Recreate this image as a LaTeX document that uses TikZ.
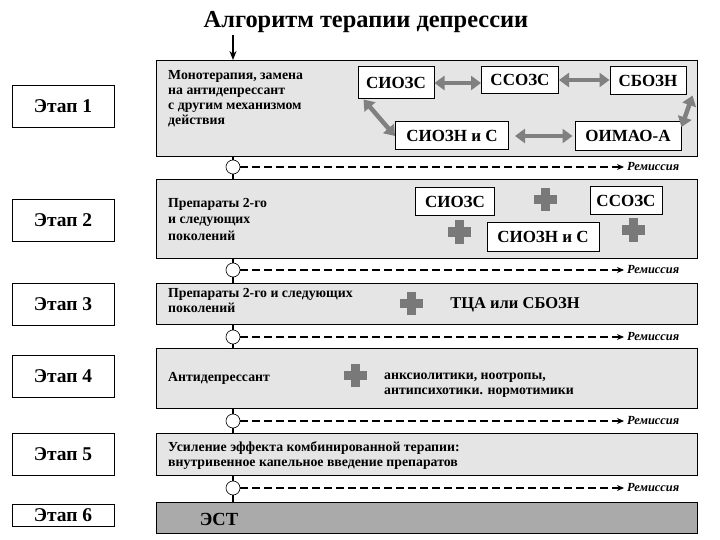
\documentclass[tikz,border=0pt]{standalone}
\usepackage{fontspec}
\setmainfont{Liberation Serif}
\usepackage{tikz}
\usetikzlibrary{
    arrows.meta,
    positioning
}
\tikzstyle{panel} = [
    rectangle, draw=black,
    line width=0.8pt,
    fill=gray!20,
    anchor=north west,
    minimum width=541pt
]
\tikzstyle{stage} = [
    rectangle, draw=black,
    line width=0.8pt,
    fill=white,
    minimum width=102pt,
    minimum height=42pt,
    font=\fontsize{19.5}{22}\selectfont\bfseries
]
\tikzstyle{drug} = [
    rectangle, draw=black,
    line width=1pt,
    fill=white,
    inner sep=0pt,
    font=\fontsize{17}{20}\selectfont\bfseries
]
\tikzstyle{note} = [
    anchor=north west,
    align=left,
    inner sep=0pt,
    font=\fontsize{13.8}{15}\selectfont\bfseries
]
\tikzstyle{knot} = [
    circle, draw=black,
    line width=0.6pt,
    fill=white,
    minimum size=14pt,
    inner sep=0pt
]
\tikzstyle{remark} = [
    anchor=west,
    inner sep=3pt,
    font=\fontsize{12.4}{14}\selectfont\bfseries\itshape
]
\tikzstyle{remline} = [
    dash pattern=on 8pt off 4pt,
    line width=1.2pt,
    -{Stealth[length=7pt,width=6pt]}
]
\tikzstyle{swap} = [
    draw=gray,
    line width=4.5pt,
    {Triangle[length=10pt,width=14pt]}-{Triangle[length=10pt,width=14pt]}
]
\tikzstyle{arrow} = [
    line width=1.5pt,
    -{Stealth[length=9pt,width=7pt]}
]
\tikzstyle{link} = [
    line width=1.2pt
]
% grey cross between drug groups, centre (x,y)
\newcommand{\drugplus}[2]{%
    \fill[gray!95!black] (#1-11.5,#2-4.5) rectangle (#1+11.5,#2+4.5);
    \fill[gray!95!black] (#1-4.5,#2-11.5) rectangle (#1+4.5,#2+11.5);
}

\begin{document}
\begin{tikzpicture}[x=1pt, y=-1pt]
    \useasboundingbox (0,0) rectangle (720,540);

    \node[font=\fontsize{24.4}{28}\selectfont\bfseries] (title) at (366,22) {Алгоритм терапии депрессии};
    \coordinate (entry) at (233,35);

    % stages
    \node[stage] (etap1) at (63,106) {Этап 1};
    \node[stage] (etap2) at (63,220) {Этап 2};
    \node[stage] (etap3) at (63,304) {Этап 3};
    \node[stage] (etap4) at (63,376) {Этап 4};
    \node[stage] (etap5) at (63,454) {Этап 5};
    \node[stage, minimum height=22pt] (etap6) at (63,515) {Этап 6};

    % panels
    \node[panel, minimum height=96pt] (p1) at (156,60) {};
    \node[panel, minimum height=79pt] (p2) at (156,179) {};
    \node[panel, minimum height=41pt] (p3) at (156,283) {};
    \node[panel, minimum height=60pt] (p4) at (156,348) {};
    \node[panel, minimum height=42pt] (p5) at (156,433) {};
    \node[panel, minimum height=31pt, fill=gray!67] (p6) at (156,502) {};

    % stage 1
    \node[note] (mono) at (168,70) {Монотерапия, замена\\на антидепрессант\\с другим механизмом\\действия};
    \node[drug, minimum width=76pt, minimum height=32pt] (siozs1) at (396,83) {СИОЗС};
    \node[drug, minimum width=77pt, minimum height=27pt] (ssozs1) at (520,80) {ССОЗС};
    \node[drug, minimum width=76pt, minimum height=28pt] (sbozn1) at (648,81) {СБОЗН};
    \node[drug, minimum width=113pt, minimum height=28pt] (siozn1) at (452,136) {СИОЗН и С};
    \node[drug, minimum width=106pt, minimum height=29pt] (oimao1) at (628,136) {ОИМАО-А};
    \draw[swap] (siozs1.east) -- (siozs1.east -| ssozs1.west);
    \draw[swap] (ssozs1.east) -- (ssozs1.east -| sbozn1.west);
    \draw[swap] ([xshift=6pt]siozs1.south west) -- (siozn1.west);
    \draw[swap, shorten <=6pt, shorten >=2pt] (siozn1.east) -- (siozn1.east -| oimao1.west);
    \draw[swap] ([xshift=6pt]sbozn1.south east) -- ([yshift=-6pt]oimao1.north east);

    % stage 2
    \node[note, font=\fontsize{13.8}{16.5}\selectfont\bfseries] (gen2) at (168,198) {Препараты 2-го\\и следующих\\поколений};
    \node[drug, minimum width=79pt, minimum height=28pt] (siozs2) at (455,202) {СИОЗС};
    \node[drug, minimum width=72pt, minimum height=28pt] (ssozs2) at (626,201) {ССОЗС};
    \node[drug, minimum width=112pt, minimum height=29pt] (siozn2) at (543,237) {СИОЗН и С};
    \drugplus{545}{200}
    \drugplus{459}{232}
    \drugplus{633}{230}

    % stage 3
    \node[note] (gen3) at (168,288) {Препараты 2-го и следующих\\поколений};
    \drugplus{411}{303}
    \node[font=\fontsize{16.5}{19}\selectfont\bfseries] (tca) at (515,305) {ТЦА или СБОЗН};

    % stage 4
    \node[note] (anti) at (168,372) {Антидепрессант};
    \drugplus{355}{375}
    \node[note] (adds) at (384,373) {анксиолитики, ноотропы,\\антипсихотики. нормотимики};

    % stage 5
    \node[note] (iv) at (168,441) {Усиление эффекта комбинированной терапии:\\внутривенное капельное введение препаратов};

    % stage 6
    \node[font=\fontsize{18.5}{20}\selectfont\bfseries] (est) at (219,519) {ЭСТ};

    % remission knots
    \node[knot] (knot1) at (233,167) {};
    \node[knot] (knot2) at (233,270) {};
    \node[knot] (knot3) at (233,337) {};
    \node[knot] (knot4) at (233,421) {};
    \node[knot] (knot5) at (233,488) {};
    \node[remark] (rem1) at (624,167) {Ремиссия};
    \node[remark] (rem2) at (624,270) {Ремиссия};
    \node[remark] (rem3) at (624,337) {Ремиссия};
    \node[remark] (rem4) at (624,421) {Ремиссия};
    \node[remark] (rem5) at (624,488) {Ремиссия};
    \draw[remline] (knot1) -- (rem1.west);
    \draw[remline] (knot2) -- (rem2.west);
    \draw[remline] (knot3) -- (rem3.west);
    \draw[remline] (knot4) -- (rem4.west);
    \draw[remline] (knot5) -- (rem5.west);

    % flow
    \draw[arrow] (entry) -- (entry |- p1.north);
    \draw[link] (knot1 |- p1.south) -- (knot1);
    \draw[link] (knot1) -- (knot1 |- p2.north);
    \draw[link] (knot2 |- p2.south) -- (knot2);
    \draw[link] (knot2) -- (knot2 |- p3.north);
    \draw[link] (knot3 |- p3.south) -- (knot3);
    \draw[link] (knot3) -- (knot3 |- p4.north);
    \draw[link] (knot4 |- p4.south) -- (knot4);
    \draw[link] (knot4) -- (knot4 |- p5.north);
    \draw[link] (knot5 |- p5.south) -- (knot5);
    \draw[link] (knot5) -- (knot5 |- p6.north);
\end{tikzpicture}
\end{document}
